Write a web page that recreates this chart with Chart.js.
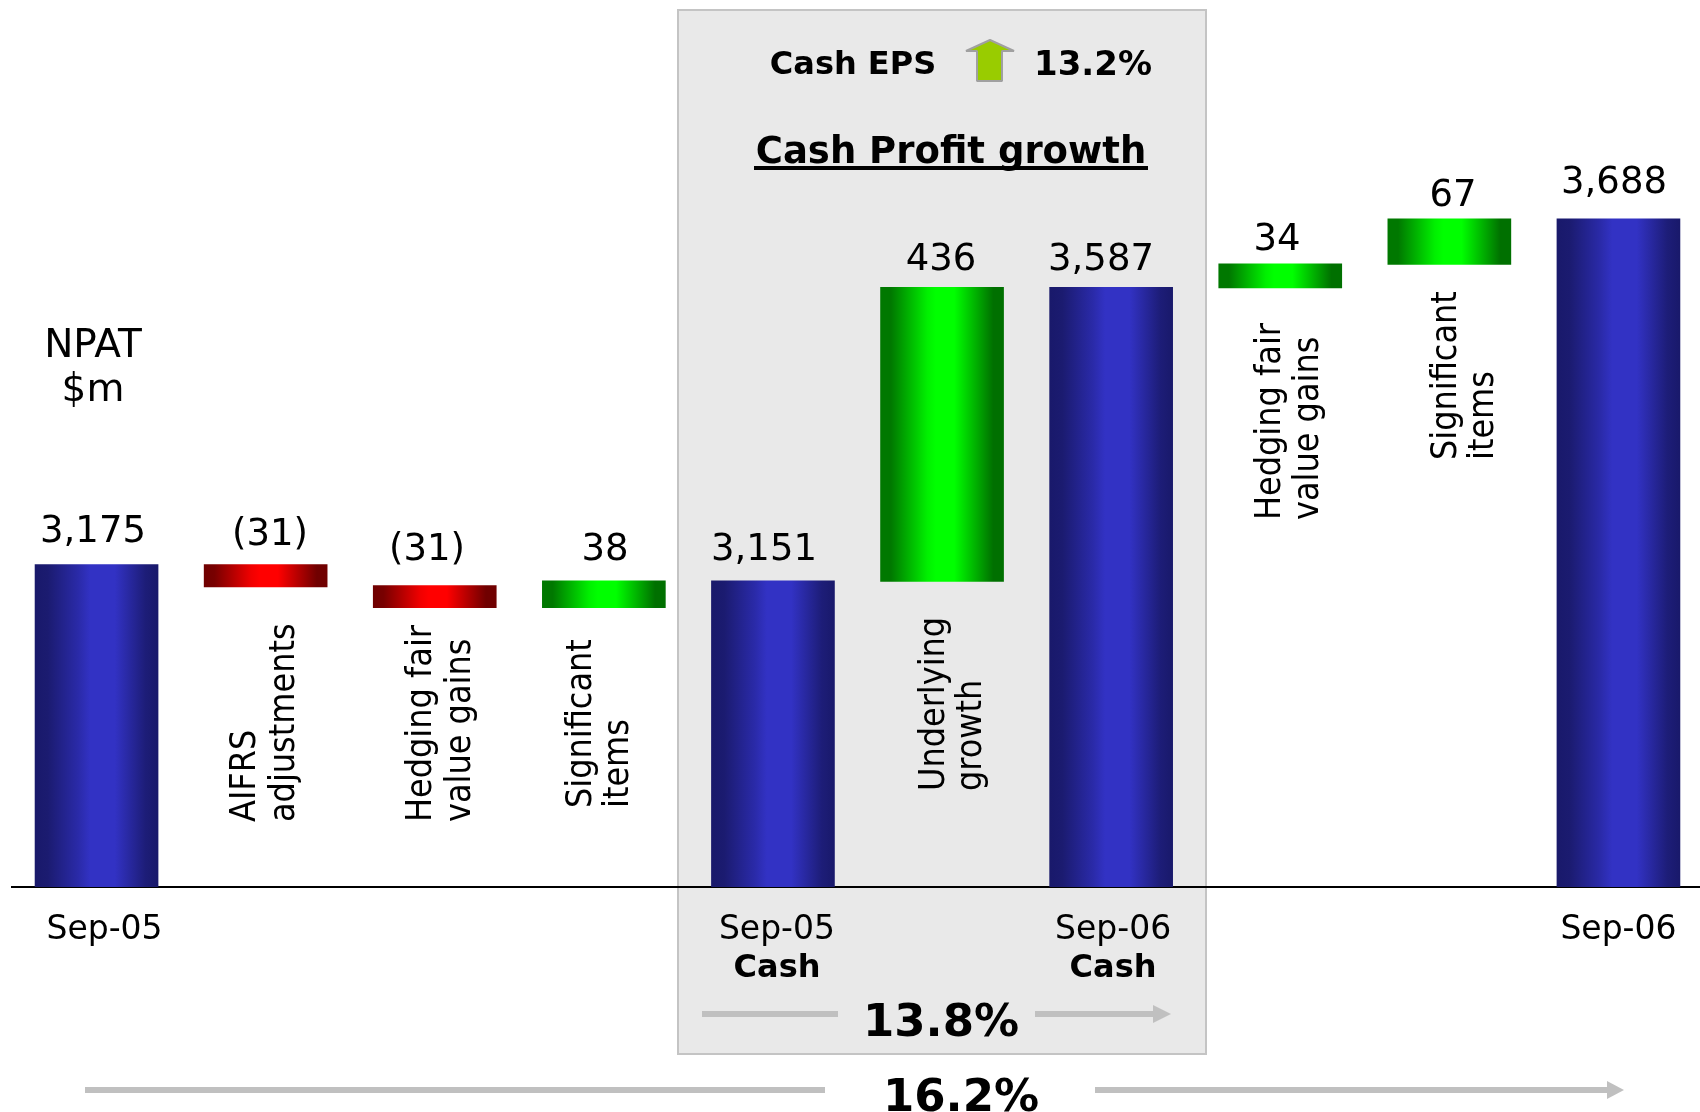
<!DOCTYPE html>
<html>
<head>
<meta charset="utf-8">
<style>
html,body{margin:0;padding:0;background:#fff;overflow:hidden;width:1700px;height:1112px}
#wrap{position:absolute;left:0;top:0;width:1703px;height:1112px}
</style>
<script src="https://cdn.jsdelivr.net/npm/chart.js@4/dist/chart.umd.min.js"></script>
</head>
<body>
<div id="wrap"><canvas id="c" width="1703" height="1112"></canvas></div>
<script>
const categories = ["Sep-05","AIFRS adjustments","Hedging fair value gains","Significant items","Sep-05 Cash","Underlying growth","Sep-06 Cash","Hedging fair value gains","Significant items","Sep-06"];
const tickLabels = ["Sep-05","","","","Sep-05","","Sep-06","","","Sep-06"];
const barLow  = [2696,3142,3111,3111,2696,3150,2696,3586,3621,2696];
const barHigh = [3175,3175,3144,3151,3151,3587,3587,3622,3689,3689];
const valueLabels = ["3,175","(31)","(31)","38","3,151","436","3,587","34","67","3,688"];
const barKinds = ["total","down","down","up","total","up","total","up","up","total"];
const rotatedText = [null,["AIFRS","adjustments"],["Hedging fair","value gains"],["Significant","items"],null,["Underlying","growth"],null,["Hedging fair","value gains"],["Significant","items"],null];

const FONT = '"DejaVu Sans"';
const palettes = {
  total:[[0,'#19196b'],[0.1,'#1b1b70'],[0.35,'#2a2aa8'],[0.45,'#3232c4'],[0.65,'#3232c4'],[0.9,'#1d1d78'],[1,'#19196b']],
  up:[[0,'#007800'],[0.08,'#007800'],[0.38,'#00f000'],[0.45,'#00ff00'],[0.6,'#00ff00'],[0.92,'#007000'],[1,'#007000']],
  down:[[0,'#700000'],[0.08,'#780000'],[0.38,'#f00000'],[0.45,'#ff0000'],[0.6,'#ff0000'],[0.92,'#700000'],[1,'#700000']]
};
const tickNudge = [8,0,0,0,4,0,2,0,0,0];
const valueLabelX = [93,270,427,605,764,941,1101,1277,1453,1614];
const valueLabelY = [532,535,550,550,550,260,260,240,196,183];
const rotatedX = [null,[246,285],[422,461],[582,619],null,[935,972],null,[1271,1309],[1447,1484],null];
const rotatedY = [null,822,822,808,null,791,null,520,460,null];

function text(c,s,x,y,size,bold,align){
  c.font=(bold?'bold ':'')+size+'px '+FONT;
  c.fillStyle='#000';c.textAlign=align||'center';c.textBaseline='middle';
  c.fillText(s,x,y);
}
function band(c,x0,x1,y){ c.fillStyle='#c0c0c0'; c.fillRect(x0,y-3,x1-x0,6); }
function arrow(c,x0,xb,x1,y){
  band(c,x0,xb,y);
  c.beginPath();c.moveTo(xb,y-9);c.lineTo(x1,y);c.lineTo(xb,y+9);c.closePath();c.fill();
}
const panelPlugin = {
  id:'panel',
  beforeDraw(chart){
    const c=chart.ctx;
    c.save();
    c.fillStyle='#e9e9e9';c.fillRect(678,10,528,1044);
    c.strokeStyle='#c4c4c4';c.lineWidth=2;c.strokeRect(678,10,528,1044);
    c.restore();
  }
};
const overlayPlugin = {
  id:'overlay',
  afterDraw(chart){
    const c=chart.ctx;
    c.save();
    valueLabels.forEach((s,i)=>text(c,s,valueLabelX[i],valueLabelY[i],37,false));
    rotatedText.forEach((lines,i)=>{
      if(!lines) return;
      lines.forEach((s,k)=>{
        c.save();
        c.translate(rotatedX[i][k],rotatedY[i]);
        c.rotate(-Math.PI/2);
        c.scale(1,1.1);
        text(c,s,0,0,32,false,'left');
        c.restore();
      });
    });
    text(c,"NPAT",93,347,39,false);
    text(c,"$m",93,391,39,false);
    text(c,"Cash EPS",853,66,32,true);
    text(c,"13.2%",1093,66,34,true);
    c.beginPath();
    c.moveTo(990,40);c.lineTo(1014,51);c.lineTo(1002,51);c.lineTo(1002,81);c.lineTo(977,81);c.lineTo(977,51);c.lineTo(966,51);c.closePath();
    c.fillStyle='#99cc00';c.fill();c.strokeStyle='#a0a0a0';c.lineWidth=2;c.lineJoin='bevel';c.stroke();
    text(c,"Cash Profit growth",951,153,37,true);
    c.fillStyle='#000';c.fillRect(754,166,394,4);
    text(c,"Cash",777,969,32,true);
    text(c,"Cash",1113,969,32,true);
    band(c,702,838,1014);
    arrow(c,1035,1153,1171,1014);
    text(c,"13.8%",941,1024,45,true);
    band(c,85,825,1090);
    arrow(c,1095,1607,1624,1090);
    text(c,"16.2%",961,1099,45,true);
    c.restore();
  }
};
new Chart(document.getElementById('c').getContext('2d'),{
  type:'bar',
  data:{labels:categories,datasets:[{
    data:barLow.map((v,i)=>[v,barHigh[i]]),
    barThickness:123,borderWidth:0,
    backgroundColor(ctx){
      const ch=ctx.chart;
      if(!ch.chartArea||ctx.dataIndex===undefined) return '#3333cc';
      const cx=ch.scales.x.getPixelForValue(ctx.dataIndex);
      const g=ch.ctx.createLinearGradient(cx-61,0,cx+61,0);
      palettes[barKinds[ctx.dataIndex]].forEach(s=>g.addColorStop(s[0],s[1]));
      return g;
    }
  }]},
  options:{
    responsive:false,animation:false,
    layout:{padding:{left:12,right:0,top:0,bottom:0}},
    plugins:{legend:{display:false},tooltip:{enabled:false},title:{display:false}},
    scales:{
      x:{
        grid:{display:false,drawTicks:false},
        border:{display:true,color:'#000',width:2},
        afterFit(s){s.height=225;},
        afterBuildTicks(s){
          const base=s.constructor.prototype.getPixelForTick;
          s.getPixelForTick=function(i){return base.call(this,i)+(tickNudge[i]||0);};
        },
        ticks:{color:'#000',font:{family:FONT,size:33},padding:24,maxRotation:0,autoSkip:false,
          callback(v,i){return tickLabels[i];}}
      },
      y:{display:false,min:2696,max:4014}
    }
  },
  plugins:[panelPlugin,overlayPlugin]
});
</script>
</body>
</html>
